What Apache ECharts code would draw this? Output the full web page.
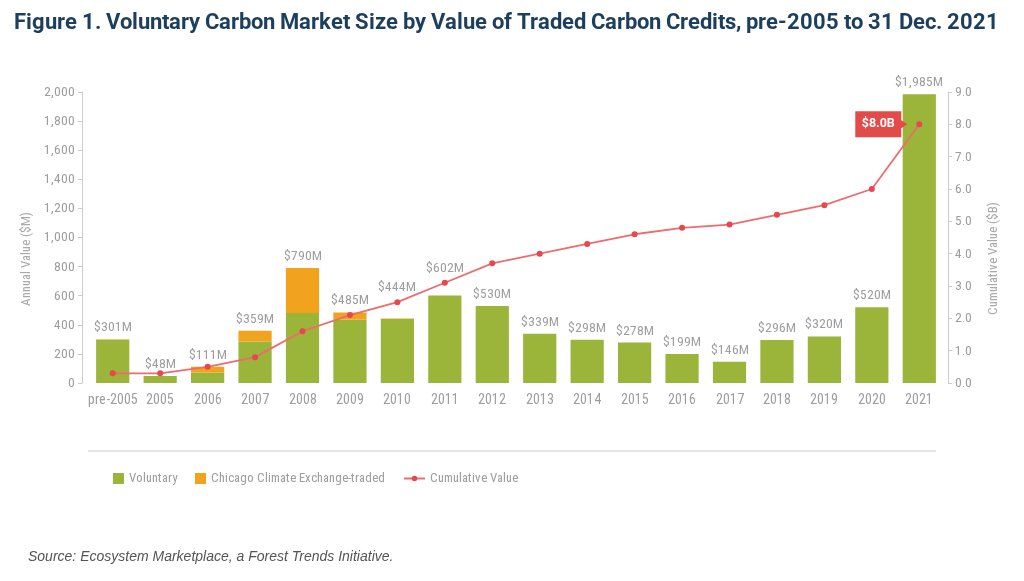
<!DOCTYPE html>
<html>
<head>
<meta charset="utf-8">
<script src="https://cdn.jsdelivr.net/npm/echarts@6/dist/echarts.min.js"></script>
<style>
  html, body { margin: 0; padding: 0; background: #fff; }
  #chart { width: 1024px; height: 581px; }
  @font-face {
    font-family: 'AxisCond';
    src: local('Roboto Condensed'), local('RobotoCondensed-Regular'),
         local('Liberation Sans Narrow'), local('LiberationSansNarrow-Regular'),
         local('DejaVu Sans Condensed'), local('DejaVuSansCondensed');
  }
  @font-face {
    font-family: 'TitleCond';
    font-weight: bold;
    src: local('Roboto Condensed Bold'), local('RobotoCondensed-Bold'),
         local('Liberation Sans Narrow Bold'), local('LiberationSansNarrow-Bold'),
         local('DejaVu Sans Condensed Bold'), local('DejaVuSansCondensed-Bold');
  }
</style>
</head>
<body>
<div id="chart"></div>
<script>
const years = ['pre-2005', '2005', '2006', '2007', '2008', '2009', '2010', '2011', '2012',
    '2013', '2014', '2015', '2016', '2017', '2018', '2019', '2020', '2021'];
// annual value, $M
const voluntary = [298, 48, 73, 286, 481, 437, 440, 602, 530, 339, 298, 278, 199, 146, 296, 320, 520, 1985];
const ccx = [3, 0, 38, 73, 309, 48, 4, 0, 0, 0, 0, 0, 0, 0, 0, 0, 0, 0];
const totalLabels = ['$301M', '$48M', '$111M', '$359M', '$790M', '$485M', '$444M', '$602M', '$530M',
    '$339M', '$298M', '$278M', '$199M', '$146M', '$296M', '$320M', '$520M', '$1,985M'];
// cumulative value, $B
const cumulative = [0.3, 0.3, 0.5, 0.8, 1.6, 2.1, 2.5, 3.1, 3.7, 4.0, 4.3, 4.6, 4.8, 4.9, 5.2, 5.5, 6.0, 8.0];

// labels lifted clear of the line in the original
const liftedLabels = { 6: 24, 7: 20 };

const axisFont = "AxisCond, Roboto, sans-serif";
const gray = '#9e9e9e';

function draw() {
    const chart = echarts.init(document.getElementById('chart'));

    const legendText = { fontFamily: axisFont, fontSize: 13, color: gray };

    chart.setOption({
        backgroundColor: '#fff',
        animation: false,
        title: [
            {
                text: 'Figure 1. Voluntary Carbon Market Size by Value of Traded Carbon Credits, pre-2005 to 31 Dec. 2021',
                left: 9,
                top: 8,
                textStyle: { fontFamily: 'TitleCond, Roboto', fontWeight: 'bold', fontSize: 21.5, color: '#1d3f5f' }
            },
            {
                text: 'Source: Ecosystem Marketplace, a Forest Trends Initiative.',
                left: 23,
                top: 545,
                textStyle: { fontFamily: "'Liberation Sans', Arial, sans-serif", fontStyle: 'italic', fontWeight: 'normal', fontSize: 14, color: '#555' }
            }
        ],
        graphic: [{
            type: 'line',
            shape: { x1: 88, y1: 451, x2: 936, y2: 451 },
            style: { stroke: '#dddddd', lineWidth: 1.5 }
        }],
        legend: [
            {
                left: 108,
                top: 467,
                itemWidth: 11,
                itemHeight: 11,
                itemGap: 18,
                textStyle: legendText,
                data: [
                    { name: 'Voluntary', icon: 'rect' },
                    { name: 'Chicago Climate Exchange-traded', icon: 'rect' }
                ]
            },
            {
                left: 398,
                top: 467,
                itemWidth: 21,
                itemHeight: 7,
                textStyle: legendText,
                data: ['Cumulative Value']
            }
        ],
        grid: { left: 89, right: 81, top: 92, bottom: 198 },
        xAxis: {
            type: 'category',
            data: years,
            axisLine: { show: false },
            axisTick: { show: false },
            axisLabel: { color: gray, fontFamily: axisFont, fontSize: 14, margin: 10, interval: 0 }
        },
        yAxis: [
            {
                type: 'value',
                min: 0,
                max: 2000,
                interval: 200,
                offset: 7,
                name: 'Annual Value ($M)',
                nameLocation: 'middle',
                nameRotate: 90,
                nameGap: 36,
                nameTextStyle: { color: '#aaa', fontFamily: axisFont, fontSize: 13, padding: [0, 42, 0, 0] },
                axisLine: { show: true, lineStyle: { color: '#cccccc' } },
                axisTick: { show: true, length: 4, lineStyle: { color: '#cccccc' } },
                splitLine: { show: false },
                axisLabel: {
                    color: gray, fontFamily: axisFont, fontSize: 13.5, margin: 7,
                    formatter: v => v.toLocaleString('en-US')
                }
            },
            {
                type: 'value',
                min: 0,
                max: 9,
                interval: 1,
                offset: 5,
                name: 'Cumulative Value ($B)',
                nameLocation: 'middle',
                nameRotate: 90,
                nameGap: 39,
                nameTextStyle: { color: '#aaa', fontFamily: axisFont, fontSize: 13, padding: [0, 42, 0, 0] },
                axisLine: { show: true, lineStyle: { color: '#cccccc' } },
                axisTick: { show: true, length: 4, lineStyle: { color: '#cccccc' } },
                splitLine: { show: false },
                axisLabel: {
                    color: gray, fontFamily: axisFont, fontSize: 13.5, margin: 7,
                    formatter: v => v.toFixed(1)
                }
            }
        ],
        series: [
            {
                name: 'Voluntary',
                type: 'bar',
                stack: 'annual',
                barWidth: '70%',
                itemStyle: { color: '#9bb43a' },
                data: voluntary
            },
            {
                name: 'Chicago Climate Exchange-traded',
                type: 'bar',
                stack: 'annual',
                itemStyle: { color: '#f2a31e' },
                label: {
                    show: true,
                    position: 'top',
                    distance: 5,
                    color: gray,
                    fontFamily: axisFont,
                    fontSize: 13.5,
                    formatter: p => totalLabels[p.dataIndex]
                },
                data: ccx.map((v, i) => liftedLabels[i] ? { value: v, label: { distance: liftedLabels[i] } } : v)
            },
            {
                name: 'Cumulative Value',
                type: 'line',
                yAxisIndex: 1,
                symbol: 'circle',
                symbolSize: 6,
                itemStyle: { color: '#e5484d' },
                lineStyle: { color: '#ee6b6e', width: 1.8 },
                data: cumulative,
                markPoint: {
                    symbol: 'path://M0,0 L46,0 L46,9 L52,13 L46,17 L46,26 L0,26 Z',
                    symbolSize: [52, 26],
                    symbolOffset: [-38, 0],
                    itemStyle: { color: '#e34a4a' },
                    label: {
                        show: true,
                        color: '#fff',
                        fontFamily: 'Roboto',
                        fontWeight: 'bold',
                        fontSize: 12.5,
                        offset: [-3, 0],
                        formatter: '$8.0B'
                    },
                    data: [{ coord: [years.length - 1, cumulative[cumulative.length - 1]] }]
                }
            }
        ]
    });
}

Promise.all([
    document.fonts.load('14px AxisCond'),
    document.fonts.load('bold 21px TitleCond')
]).then(draw, draw);
</script>
</body>
</html>
